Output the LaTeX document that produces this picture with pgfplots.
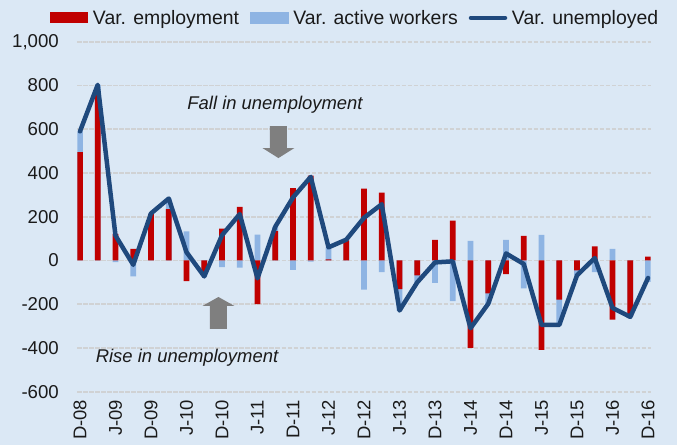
\documentclass[border=0pt]{standalone}
\usepackage{fontspec}
\setmainfont{Liberation Sans}
\usepackage{pgfplots}
\pgfplotsset{compat=1.18}
\usepackage{pgfplotstable}
\definecolor{bg}{RGB}{219,232,245}
\definecolor{empred}{RGB}{192,0,0}
\definecolor{actblue}{RGB}{142,180,227}
\definecolor{unemp}{RGB}{31,73,125}
\definecolor{gridc}{RGB}{208,210,212}
\definecolor{arrowg}{RGB}{127,127,127}
\definecolor{txt}{RGB}{26,26,26}

\pgfplotstableread{
i emp act unemp
0 495 95 590
1 765 38 803
2 122 -8 114
3 53 -73 -20
4 212 3 215
5 235 48 283
6 -95 133 38
7 -53 -20 -73
8 145 -30 115
9 245 -33 212
10 -200 118 -82
11 134 20 154
12 331 -43 288
13 388 -5 382
14 5 55 60
15 92 3 95
16 328 -133 195
17 310 -53 257
18 -131 -98 -229
19 -68 -32 -100
20 94 -103 -9
21 182 -186 -4
22 -400 90 -310
23 -150 -48 -198
24 -62 94 32
25 112 -128 -16
26 -409 117 -295
27 -179 -116 -295
28 -45 -23 -68
29 64 -53 11
30 -270 53 -217
31 -255 -3 -258
32 18 -98 -80
}\data

\begin{document}
\begin{tikzpicture}
\fill[bg] (-77.5bp,-53.3bp) rectangle (599.5bp,391.7bp);
\path[use as bounding box] (-77.5bp,-53.3bp) rectangle (599.5bp,391.7bp);
\begin{axis}[
  at={(0,0)}, anchor=south west,
  scale only axis, width=573bp, height=350bp,
  xmin=-0.14, xmax=32.14,
  ymin=-600, ymax=1000,
  ytick={-600,-400,...,1000},
  xtick={0,2,...,32},
  xticklabels={D-08,J-09,D-09,J-10,D-10,J-11,D-11,J-12,D-12,J-13,D-13,J-14,D-14,J-15,D-15,J-16,D-16},
  /pgf/number format/assume math mode=true,
  /pgf/number format/1000 sep={,},
  axis line style={draw=none},
  major tick length=0pt,
  tick style={draw=none},
  ymajorgrids,
  grid style={gridc, line width=1.8bp, dash pattern=on 4.5bp off 1.5bp},
  yticklabel style={font=\fontsize{18.7}{20}\selectfont, text=txt, anchor=east, inner sep=0pt, xshift=-18.5bp},
  xticklabel style={font=\fontsize{18.5}{20}\selectfont, text=txt, rotate=90, anchor=east, inner ysep=0pt, inner xsep=0pt, yshift=0bp, xshift=-8bp},
  legend style={at={(-0.048,1.068)}, anchor=west, draw=none, fill=none, inner sep=0pt, outer sep=0pt,
     font=\fontsize{19.5}{22}\selectfont, text=txt,
     legend columns=3,
     /tikz/every even column/.append style={column sep=9bp}},
  legend cell align=left,
]
% active workers (stacked beyond employment when same sign)
\addplot[ybar, bar width=5.7bp, bar shift=0pt, fill=actblue, draw=none, forget plot]
  table[x=i, y expr={((\thisrow{emp}/100)*(\thisrow{act}/100)>0) ? (\thisrow{emp}+\thisrow{act}) : \thisrow{act}}]{\data};
% employment
\addplot[ybar, bar width=5.7bp, bar shift=0pt, fill=empred, draw=none,
  legend image code/.code={\fill[empred] (0bp,-5.5bp) rectangle (38bp,5.5bp); \path[draw=none,fill=none] (0bp,0bp) -- (41bp,0bp);}]
  table[x=i, y=emp]{\data};
\addlegendentry{Var. employment}
\addlegendimage{legend image code/.code={\fill[actblue] (0bp,-5.5bp) rectangle (38bp,5.5bp); \path[draw=none,fill=none] (0bp,0bp) -- (41bp,0bp);}}
\addlegendentry{Var. active workers}
% unemployed
\addplot[unemp, line width=4.5bp, line join=round, line cap=round, mark=none,
  legend image code/.code={\draw[unemp, line width=4.5bp, line cap=round] (2bp,0bp) -- (36bp,0bp); \path[draw=none,fill=none] (0bp,0bp) -- (41bp,0bp);}]
  table[x=i, y=unemp]{\data};
\addlegendentry{Var. unemployed}

% annotations
\node[font=\fontsize{18.5}{20}\selectfont\itshape, text=txt] at (axis cs:10.99,710) {Fall in unemployment};
\fill[arrowg] (axis cs:10.70,614) -- (axis cs:11.66,614) -- (axis cs:11.66,514) -- (axis cs:12.08,514)
  -- (axis cs:11.18,468) -- (axis cs:10.28,514) -- (axis cs:10.70,514) -- cycle;
\node[font=\fontsize{18.5}{20}\selectfont\itshape, text=txt] at (axis cs:6.03,-446) {Rise in unemployment};
\fill[arrowg] (axis cs:7.32,-313) -- (axis cs:8.28,-313) -- (axis cs:8.28,-208) -- (axis cs:8.70,-208)
  -- (axis cs:7.80,-167) -- (axis cs:6.90,-208) -- (axis cs:7.32,-208) -- cycle;
\end{axis}
\end{tikzpicture}
\end{document}
